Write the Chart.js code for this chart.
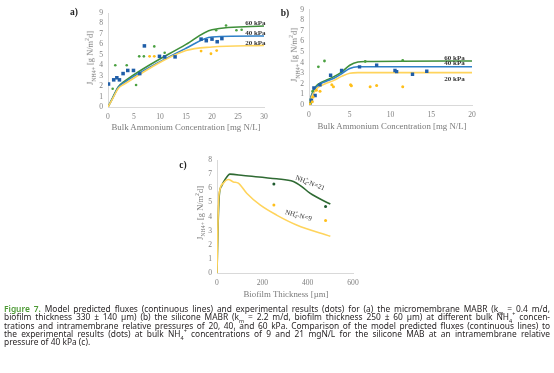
<!DOCTYPE html>
<html>
<head>
<meta charset="utf-8">
<script src="https://cdn.jsdelivr.net/npm/chart.js@4/dist/chart.umd.min.js"></script>
<style>
  body { margin: 0; width: 554px; height: 373px; background: #fff; position: relative; overflow: hidden; }
  canvas { position: absolute; }
  .t { position: absolute; font-family: "Liberation Serif", serif; color: #7a7a7a; white-space: nowrap; line-height: 1; }
  .xt { font-size: 8.8px; transform: translate(-50%, -50%); }
  .yt { font-size: 8.4px; transform: translate(-50%, -50%) rotate(-90deg); }
  .pl { font-size: 9.5px; font-weight: bold; color: #222; transform: translate(-50%, -50%); }
  .t sub, .t sup { font-size: 70%; line-height: 0; }
  #cap { position: absolute; left: 4px; top: 305px; width: 546px; font-family: "Noto Sans", sans-serif; font-size: 8.4px; color: #231f20; }
  #cap .ln { height: 8.3px; line-height: 8.3px; text-align: justify; text-align-last: justify; white-space: nowrap; }
  #cap .ln.last { text-align-last: left; }
  #cap sub, #cap sup { font-size: 65%; line-height: 0; }
  .fig { color: #4d9a35; font-weight: 600; }
</style>
</head>
<body>
<canvas id="chartA" width="220" height="140" style="left:60px;top:0px"></canvas>
<canvas id="chartB" width="274" height="140" style="left:280px;top:0px"></canvas>
<canvas id="chartC" width="260" height="150" style="left:120px;top:150px"></canvas>

<div class="t pl" style="left:74px;top:13px">a)</div>
<div class="t pl" style="left:285px;top:14px">b)</div>
<div class="t pl" style="left:183px;top:166px">c)</div>

<div class="t yt" style="left:91px;top:58px">J<sub>NH4+</sub> [g N/m<sup>2</sup>d]</div>
<div class="t yt" style="left:295px;top:55px">J<sub>NH4+</sub> [g N/m<sup>2</sup>d]</div>
<div class="t yt" style="left:201px;top:213px">J<sub>NH4+</sub> [g N/m<sup>2</sup>d]</div>

<div class="t xt" style="left:186px;top:127px">Bulk Ammonium Concentration [mg N/L]</div>
<div class="t xt" style="left:392px;top:126px">Bulk Ammonium Concentration [mg N/L]</div>
<div class="t xt" style="left:286px;top:294px">Biofilm Thickness [µm]</div>

<div id="cap">
  <div class="ln"><span class="fig">Figure 7.</span> Model predicted fluxes (continuous lines) and experimental results (dots) for (a) the micromembrane MABR (k<sub>m</sub> = 0.4 m/d,</div>
  <div class="ln">biofilm thickness 330 ± 140 µm) (b) the silicone MABR (k<sub>m</sub> = 2.2 m/d, biofilm thickness 250 ± 60 µm) at different bulk NH<sub>4</sub><sup>+</sup> concen-</div>
  <div class="ln">trations and intramembrane relative pressures of 20, 40, and 60 kPa. Comparison of the model predicted fluxes (continuous lines) to</div>
  <div class="ln">the experimental results (dots) at bulk NH<sub>4</sub><sup>+</sup> concentrations of 9 and 21 mgN/L for the silicone MAB at an intramembrane relative</div>
  <div class="ln last">pressure of 40 kPa (c).</div>
</div>

<script>
// ---- panel a: micromembrane MABR ----
const a60LineX = [0, 1, 2, 3, 15, 20, 30];
const a60LineY = [0, 1.0, 1.95, 2.4, 6.0, 7.4, 7.75];
const a40LineX = [0, 1, 2, 3, 15, 20, 30];
const a40LineY = [0, 0.95, 1.9, 2.3, 5.62, 6.7, 6.8];
const a20LineX = [0, 1, 2, 3, 15, 20, 30];
const a20LineY = [0, 0.9, 1.8, 2.15, 5.4, 5.75, 5.9];

const aBlueX = [0.1, 1.1, 1.7, 2.2, 2.9, 3.8, 4.9, 6.1, 7.0, 9.9, 10.9, 12.9, 17.9, 18.9, 20.0, 21.0, 21.9];
const aBlueY = [2.2, 2.6, 2.8, 2.6, 3.2, 3.5, 3.5, 3.2, 5.85, 4.85, 4.8, 4.8, 6.5, 6.35, 6.5, 6.25, 6.55];
const aGreenX = [0.9, 1.4, 3.6, 5.4, 6.0, 6.9, 8.9, 10.9, 20.8, 22.7, 24.7, 25.7];
const aGreenY = [1.75, 4.0, 4.0, 2.1, 4.85, 4.85, 5.8, 5.2, 7.35, 7.8, 7.35, 7.4];
const aYellowX = [8.0, 8.9, 17.9, 19.8, 20.9];
const aYellowY = [4.85, 4.85, 5.35, 5.1, 5.4];

// ---- panel b: silicone MABR ----
const b60LineX = [0, 0.3, 0.7, 1.2, 2, 3, 4, 5, 6, 7, 20];
const b60LineY = [0, 0.9, 1.6, 2.0, 2.3, 2.65, 3.1, 3.75, 4.05, 4.1, 4.15];
const b40LineX = [0, 0.3, 0.7, 1.2, 2, 3, 4, 5, 6, 20];
const b40LineY = [0, 0.85, 1.5, 1.9, 2.2, 2.5, 2.95, 3.45, 3.6, 3.6];
const b20LineX = [0, 0.3, 0.7, 1.2, 2, 3, 4, 5, 6, 20];
const b20LineY = [0, 0.7, 1.3, 1.7, 2.0, 2.3, 2.7, 3.0, 3.05, 3.05];

const bBlueX = [0.1, 0.3, 0.6, 0.75, 1.35, 2.65, 4.0, 6.2, 8.3, 10.55, 10.75, 12.7, 14.45];
const bBlueY = [0.1, 0.45, 1.6, 0.9, 1.9, 2.8, 3.25, 3.6, 3.75, 3.25, 3.15, 2.9, 3.18];
const bGreenX = [0.15, 0.45, 1.15, 1.9, 6.9, 11.5];
const bGreenY = [0.15, 1.3, 3.6, 4.15, 4.1, 4.2];
const bYellowX = [0.1, 0.4, 0.5, 0.9, 1.35, 2.8, 3.0, 5.1, 5.2, 7.5, 8.3, 11.5];
const bYellowY = [0.1, 0.3, 0.75, 1.4, 1.3, 1.9, 1.73, 1.9, 1.82, 1.73, 1.85, 1.73];

// ---- panel c: flux vs biofilm thickness ----
const c21LineX = [0, 5, 10, 20, 35, 57, 116, 263, 337, 374, 410, 500];
const c21LineY = [0, 3.5, 5.5, 6.15, 6.6, 7.0, 6.9, 6.67, 6.48, 6.12, 5.65, 4.88];
const c9LineX = [0, 6, 13, 28, 50, 72, 94, 131, 190, 263, 351, 500];
const c9LineY = [0, 4.8, 5.9, 6.36, 6.62, 6.45, 6.36, 5.65, 4.82, 4.1, 3.4, 2.6];
const c21DotX = [251, 479];
const c21DotY = [6.3, 4.7];
const c9DotX = [251, 479];
const c9DotY = [4.82, 3.72];

const GREEN = '#3f8f3a';
const DKGREEN = '#2f6a33';
const BLUE = '#2f80c8';
const BLUEPT = '#1f5ea8';
const YELLOW = '#ffd45c';
const YELLOWPT = '#ffbf1a';

function pts(xs, ys) {
    return xs.map((x, i) => ({ x: x, y: ys[i] }));
}

function line(xs, ys, color, width) {
    return {
        type: 'line', data: pts(xs, ys), borderColor: color, borderWidth: width || 1.6,
        pointRadius: 0, fill: false, tension: 0.35, cubicInterpolationMode: 'monotone'
    };
}

function dots(xs, ys, color, style, r) {
    return {
        type: 'scatter', data: pts(xs, ys), backgroundColor: color, borderColor: color,
        borderWidth: 0, pointStyle: style, pointRadius: r
    };
}

// draws the text labels inside the plots, placed in data units
const notes = {
    id: 'notes',
    afterDatasetsDraw(chart, args, opts) {
        const ctx = chart.ctx;
        const sx = chart.scales.x, sy = chart.scales.y;
        (opts.items || []).forEach(n => {
            const px = sx.getPixelForValue(n.x);
            const py = sy.getPixelForValue(n.y);
            ctx.save();
            ctx.translate(px, py);
            ctx.rotate((n.rot || 0) * Math.PI / 180);
            ctx.fillStyle = n.color || '#333';
            ctx.textBaseline = 'middle';
            if (n.ion) {
                // NH4+ -N=xx with sub/sup
                const f = 'px "Liberation Serif", serif';
                const parts = [['NH', 7, 0], ['4', 4.8, 1.9], ['+', 4.8, -2.8], ['-N=' + n.ion, 7, 0]];
                let w = 0;
                parts.forEach(p => { ctx.font = p[1] + f; if (p[0] !== '+') w += ctx.measureText(p[0]).width; });
                let cx = -w / 2, subW = 0;
                parts.forEach(p => {
                    ctx.font = p[1] + f;
                    if (p[0] === '+') { ctx.fillText(p[0], cx - subW, p[2]); return; }
                    ctx.fillText(p[0], cx, p[2]);
                    subW = ctx.measureText(p[0]).width;
                    cx += subW;
                });
            } else {
                ctx.font = 'bold 7px "Liberation Serif", serif';
                ctx.textAlign = n.align || 'right';
                ctx.fillText(n.text, 0, 0);
            }
            ctx.restore();
        });
    }
};

function axes(xmax, xstep, ymax, yw, xh) {
    const tick = { color: '#7f7f7f', autoSkip: false, maxRotation: 0, font: { family: '"Liberation Serif", serif', size: 7.6 } };
    return {
        x: {
            type: 'linear', min: 0, max: xmax,
            ticks: Object.assign({ stepSize: xstep, padding: 5 }, tick),
            grid: { display: false, drawTicks: false },
            border: { display: true, color: '#d9d9d9', width: 1 },
            afterFit: s => { s.height = xh; }
        },
        y: {
            min: 0, max: ymax,
            ticks: Object.assign({ stepSize: 1, padding: 5 }, tick),
            grid: { display: false, drawTicks: false },
            border: { display: true, color: '#d9d9d9', width: 1 },
            afterFit: s => { s.width = yw; }
        }
    };
}

function baseOptions(pad, scales, items) {
    return {
        responsive: false,
        animation: false,
        layout: { padding: pad },
        scales: scales,
        plugins: { legend: { display: false }, tooltip: { enabled: false }, notes: { items: items } }
    };
}

new Chart(document.getElementById('chartA'), {
    type: 'scatter',
    data: {
        datasets: [
            dots(aYellowX, aYellowY, YELLOWPT, 'circle', 1.4),
            dots(aGreenX, aGreenY, '#4aa040', 'circle', 1.3),
            dots(aBlueX, aBlueY, BLUEPT, 'rect', 2.5),
            line(a20LineX, a20LineY, YELLOW),
            line(a40LineX, a40LineY, BLUE),
            line(a60LineX, a60LineY, GREEN)
        ]
    },
    options: baseOptions({ top: 13, right: 16, left: 0, bottom: 0 }, axes(30, 5, 9, 48, 33), [
        { x: 30.3, y: 8.07, text: '60 kPa' },
        { x: 30.3, y: 7.1, text: '40 kPa' },
        { x: 30.3, y: 6.15, text: '20 kPa' }
    ]),
    plugins: [notes]
});

new Chart(document.getElementById('chartB'), {
    type: 'scatter',
    data: {
        datasets: [
            dots(bYellowX, bYellowY, YELLOWPT, 'circle', 1.5),
            dots(bGreenX, bGreenY, '#4aa040', 'circle', 1.4),
            dots(bBlueX, bBlueY, BLUEPT, 'rect', 2.4),
            line(b20LineX, b20LineY, YELLOW),
            line(b40LineX, b40LineY, BLUE),
            line(b60LineX, b60LineY, GREEN)
        ]
    },
    options: baseOptions({ top: 6, right: 82, left: 0, bottom: 0 }, axes(20, 5, 9, 29, 35), [
        { x: 19.1, y: 4.4, text: '60 kPa' },
        { x: 19.1, y: 3.95, text: '40 kPa' },
        { x: 19.1, y: 2.43, text: '20 kPa' }
    ]),
    plugins: [notes]
});

new Chart(document.getElementById('chartC'), {
    type: 'scatter',
    data: {
        datasets: [
            line(c9LineX, c9LineY, YELLOW),
            line(c21LineX, c21LineY, DKGREEN),
            dots(c9DotX, c9DotY, YELLOWPT, 'circle', 1.5),
            dots(c21DotX, c21DotY, '#1f5a2e', 'circle', 1.5)
        ]
    },
    options: baseOptions({ top: 10, right: 27, left: 0, bottom: 0 }, axes(600, 200, 8, 97, 27), [
        { x: 410, y: 6.36, rot: 21, ion: '21', color: '#333' },
        { x: 359, y: 4.06, rot: 15, ion: '9', color: '#333' }
    ]),
    plugins: [notes]
});
</script>
</body>
</html>
